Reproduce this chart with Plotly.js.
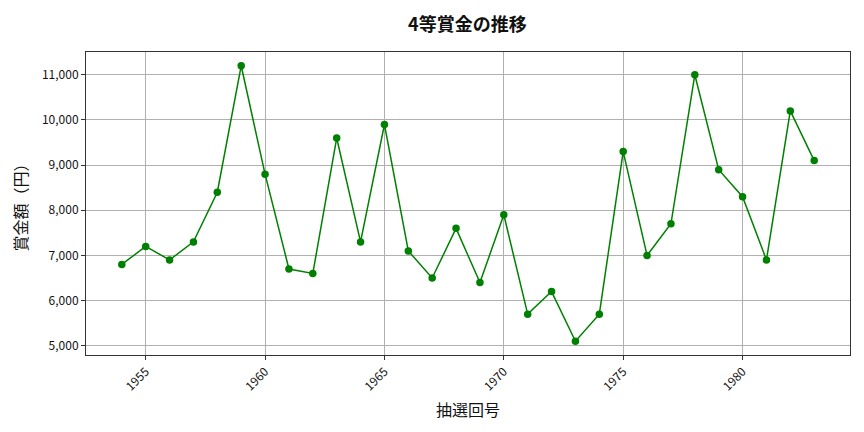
<!DOCTYPE html>
<html>
<head>
<meta charset="utf-8">
<script src="https://cdn.plot.ly/plotly-3.0.1.min.js"></script>
<style>
  html, body { margin: 0; padding: 0; background: #fff; }
  #chart { width: 864px; height: 432px; }
</style>
</head>
<body>
<div id="chart"></div>
<script>
  // 抽選回 (draw number) and 4等 prize amounts
  var drawNumbers = [1954, 1955, 1956, 1957, 1958, 1959, 1960, 1961, 1962, 1963,
                     1964, 1965, 1966, 1967, 1968, 1969, 1970, 1971, 1972, 1973,
                     1974, 1975, 1976, 1977, 1978, 1979, 1980, 1981, 1982, 1983];
  var prizeValues = [6800, 7200, 6900, 7300, 8400, 11200, 8800, 6700, 6600, 9600,
                     7300, 9900, 7100, 6500, 7600, 6400, 7900, 5700, 6200, 5100,
                     5700, 9300, 7000, 7700, 11000, 8900, 8300, 6900, 10200, 9100];
  var xTicks = [1955, 1960, 1965, 1970, 1975, 1980];
  var yTicks = [5000, 6000, 7000, 8000, 9000, 10000, 11000];

  var font = 'Noto Sans CJK JP, Noto Sans, sans-serif';

  var trace = {
    x: drawNumbers,
    y: prizeValues,
    type: 'scatter',
    mode: 'lines+markers',
    line: { color: '#008000', width: 1.5 },
    marker: { color: '#008000', size: 7.5 },
    hoverinfo: 'x+y'
  };

  var axisCommon = {
    showline: true,
    mirror: true,
    linecolor: '#333333',
    linewidth: 1,
    showgrid: true,
    gridcolor: '#b0b0b0',
    gridwidth: 1,
    zeroline: false,
    ticks: 'outside',
    ticklen: 4,
    tickcolor: '#333333',
    tickfont: { family: font, size: 12, color: '#111111' },
    automargin: false
  };

  var layout = {
    width: 864,
    height: 432,
    paper_bgcolor: '#ffffff',
    plot_bgcolor: '#ffffff',
    font: { family: font, color: '#111111' },
    margin: { l: 86, r: 14, t: 52, b: 77 },
    showlegend: false,
    title: {
      text: '<b>4等賞金の推移</b>',
      font: { family: font, size: 18, color: '#111111' },
      x: 0.541,
      xanchor: 'center',
      y: 0.943,
      yanchor: 'middle'
    },
    xaxis: Object.assign({}, axisCommon, {
      range: [1952.5, 1984.5],
      tickvals: xTicks,
      ticktext: xTicks.map(String),
      tickangle: -45,
      title: { text: '抽選回号', font: { family: font, size: 16, color: '#111111' }, standoff: 12 }
    }),
    yaxis: Object.assign({}, axisCommon, {
      range: [4795, 11505],
      tickvals: yTicks,
      ticktext: yTicks.map(function (v) { return v.toLocaleString('en-US'); }),
      title: { text: '賞金額（円）', font: { family: font, size: 16, color: '#111111' }, standoff: 10 }
    })
  };

  Plotly.newPlot('chart', [trace], layout, { displayModeBar: false, staticPlot: true });
</script>
</body>
</html>
